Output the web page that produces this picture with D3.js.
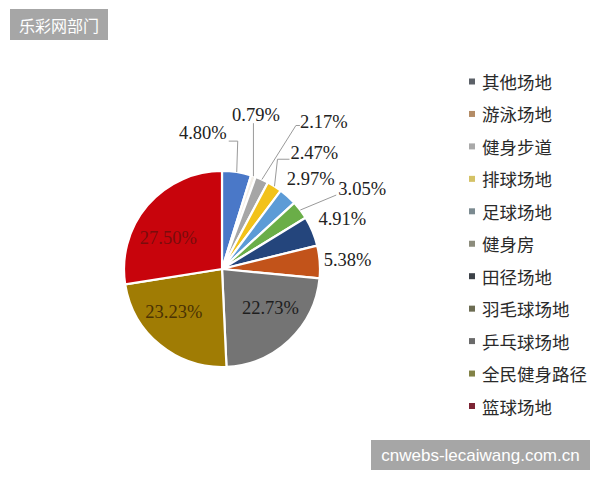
<!DOCTYPE html>
<html>
<head>
<meta charset="utf-8">
<script src="https://cdn.jsdelivr.net/npm/d3@7"></script>
<style>
  body { margin: 0; background: #fff; }
  svg { display: block; }
</style>
</head>
<body>
<div id="chart"></div>
<script>
// data, in legend / slice order (clockwise from 12 o'clock)
var categories = ["其他场地", "游泳场地", "健身步道", "排球场地", "足球场地", "健身房",
                  "田径场地", "羽毛球场地", "乒乓球场地", "全民健身路径", "篮球场地"];
var values = [4.80, 0.79, 2.17, 2.47, 2.97, 3.05, 4.91, 5.38, 22.73, 23.23, 27.50];
var valueLabels = ["4.80%", "0.79%", "2.17%", "2.47%", "2.97%", "3.05%", "4.91%", "5.38%",
                   "22.73%", "23.23%", "27.50%"];

// colours as they appear in the picture (slices and the washed-out legend markers)
var sliceColors = ["#4a78c8", "#f3efe8", "#a6a6a6", "#f2c21a", "#5c9bd6", "#6aae48",
                   "#24457c", "#c2531a", "#747474", "#a07c04", "#c8040c"];
var legendColors = ["#5c6168", "#b48c66", "#a9a9a9", "#d4c266", "#7b8a90", "#8c8c7c",
                    "#3c4148", "#6c6c52", "#6a6a6a", "#828246", "#7c2434"];

// label placement: offset from the slice edge point, optional leader line
var labelLayout = [
  {dx: -10, dy: -33, anchor: "end",    leader: [[0, 0], [1, -31], [-8, -31]]},
  {dx: 2.5, dy: -55, anchor: "middle", leader: [[0, 0], [0, -53]]},
  {dx: 38,  dy: -52, anchor: "start",  leader: [[0, 0], [34, -54], [38, -54]]},
  {dx: 16,  dy: -27, anchor: "start",  leader: [[0, 0], [3, -27], [15, -27]]},
  {dx: -1,  dy: -11, anchor: "start",  leader: null},
  {dx: 38,  dy: -15, anchor: "start",  leader: [[0, 0], [36, -15]]},
  {dx: 6,   dy: -6,  anchor: "start",  leader: null},
  {dx: 4,   dy: 4,   anchor: "start",  leader: null},
  {inside: true, dx: 8,   dy: -4,  color: "#1e1e1e"},
  {inside: true, dx: -11, dy: -3,  color: "#4a3204"},
  {inside: true, dx: -9,  dy: 7,   color: "#7a0c0c"}
];

var w = 600, h = 480;
var cx = 222, cy = 269, r = 98;

var svg = d3.select("#chart").append("svg")
    .attr("width", w)
    .attr("height", h);

// header tag
svg.append("rect").attr("x", 10).attr("y", 9).attr("width", 98).attr("height", 31)
    .attr("fill", "#a6a6a6");
svg.append("text").attr("x", 59).attr("y", 25)
    .attr("text-anchor", "middle").attr("dominant-baseline", "central")
    .style("font-family", "'Noto Sans CJK SC', sans-serif").style("font-size", "16px")
    .attr("fill", "#fff").text("乐彩网部门");

var pie = d3.pie().sort(null).value(function(d) { return d; });
var arcs = pie(values);
var arc = d3.arc().innerRadius(0).outerRadius(r);
var labelArc = d3.arc().innerRadius(r * 0.6).outerRadius(r * 0.6);

var g = svg.append("g").attr("transform", "translate(" + cx + "," + cy + ")");

g.selectAll("path.slice").data(arcs).enter().append("path")
    .attr("class", "slice")
    .attr("d", arc)
    .attr("fill", function(d, i) { return sliceColors[i]; })
    .attr("stroke", "#fff")
    .attr("stroke-width", 2.2)
    .attr("stroke-linejoin", "round");

function edgePoint(d) {
  var a = (d.startAngle + d.endAngle) / 2;
  return [Math.sin(a) * r, -Math.cos(a) * r];
}

var line = d3.line();

arcs.forEach(function(d, i) {
  var L = labelLayout[i];
  var x, y;
  if (L.inside) {
    var c = labelArc.centroid(d);
    x = c[0] + L.dx; y = c[1] + L.dy;
    g.append("text").attr("x", x).attr("y", y)
      .attr("text-anchor", "middle").attr("dominant-baseline", "central")
      .style("font-family", "'Liberation Serif', 'Times New Roman', serif")
      .style("font-size", "18.5px")
      .attr("fill", L.color)
      .text(valueLabels[i]);
    return;
  }
  var p = edgePoint(d);
  if (L.leader) {
    g.append("path")
      .attr("d", line(L.leader.map(function(q) { return [p[0] + q[0], p[1] + q[1]]; })))
      .attr("fill", "none").attr("stroke", "#9a9a9a").attr("stroke-width", 1);
  }
  g.append("text").attr("x", p[0] + L.dx).attr("y", p[1] + L.dy)
    .attr("text-anchor", L.anchor)
    .style("font-family", "'Liberation Serif', 'Times New Roman', serif")
    .style("font-size", "18.5px")
    .attr("fill", "#222")
    .text(valueLabels[i]);
});

// legend
var legendY = d3.scalePoint().domain(categories).range([81.5, 406]);
var lg = svg.append("g");
var item = lg.selectAll("g").data(categories).enter().append("g")
    .attr("transform", function(d) { return "translate(0," + legendY(d) + ")"; });
item.append("rect").attr("x", 469).attr("y", -3).attr("width", 6).attr("height", 6)
    .attr("fill", function(d, i) { return legendColors[i]; });
item.append("text").attr("x", 482).attr("y", 0)
    .attr("dominant-baseline", "central")
    .style("font-family", "'Noto Sans CJK SC', sans-serif").style("font-size", "17.5px")
    .attr("fill", "#2a2a2a")
    .text(function(d) { return d; });

// watermark
svg.append("rect").attr("x", 371).attr("y", 440).attr("width", 219).attr("height", 30)
    .attr("fill", "#a6a6a6");
svg.append("text").attr("x", 480.5).attr("y", 455)
    .attr("text-anchor", "middle").attr("dominant-baseline", "central")
    .style("font-family", "'Liberation Sans', Arial, sans-serif").style("font-size", "17px")
    .attr("fill", "#fff").text("cnwebs-lecaiwang.com.cn");
</script>
</body>
</html>
